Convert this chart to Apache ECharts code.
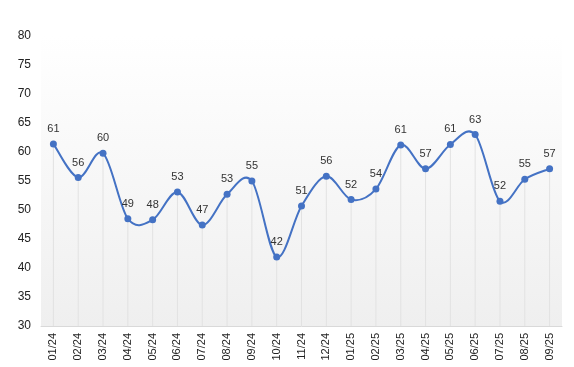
<!DOCTYPE html>
<html><head><meta charset="utf-8">
<script src="https://cdn.jsdelivr.net/npm/echarts@6/dist/echarts.min.js"></script>
<style>html,body{margin:0;padding:0;background:#fff}#c{width:574px;height:367px}</style>
</head><body><div id="c"></div>
<script>
const categories = ['01/24','02/24','03/24','04/24','05/24','06/24','07/24','08/24','09/24','10/24','11/24','12/24','01/25','02/25','03/25','04/25','05/25','06/25','07/25','08/25','09/25'];
const values = [61.4,55.6,59.8,48.5,48.3,53.1,47.4,52.7,55.0,41.9,50.7,55.8,51.8,53.6,61.2,57.1,61.3,63.0,51.5,55.3,57.1];
const yTicks = [30,35,40,45,50,55,60,65,70,75,80];

const LINE = '#4472c4';
const chart = echarts.init(document.getElementById('c'));

function renderSeg(params, api) {
  const i = params.dataIndex;
  if (i >= values.length - 1) return null;
  const P = k => {
    const kk = Math.max(0, Math.min(values.length - 1, k));
    return api.coord([kk, values[kk]]);
  };
  const p0 = P(i - 1), p1 = P(i), p2 = P(i + 1), p3 = P(i + 2);
  const t = 1 / 6;
  return {
    type: 'bezierCurve',
    shape: {
      x1: p1[0], y1: p1[1], x2: p2[0], y2: p2[1],
      cpx1: p1[0] + (p2[0] - p0[0]) * t, cpy1: p1[1] + (p2[1] - p0[1]) * t,
      cpx2: p2[0] - (p3[0] - p1[0]) * t, cpy2: p2[1] - (p3[1] - p1[1]) * t
    },
    style: { stroke: LINE, lineWidth: 2, fill: null }
  };
}

chart.setOption({
  animation: false,
  grid: {left: 41, right: 12, top: 36, bottom: 41, show: true, borderWidth: 0,
    backgroundColor: {type:'linear', x:0, y:0, x2:0, y2:1, colorStops:[{offset:0,color:'#ffffff'},{offset:1,color:'#efefef'}]}},
  xAxis: {type:'category', data: categories, boundaryGap: true,
    axisLine:{lineStyle:{color:'#d9d9d9'}}, axisTick:{show:false},
    axisLabel:{rotate:90, fontSize:11, color:'#222', fontFamily:'Liberation Sans, Arial', margin:7}},
  yAxis: {type:'value', min: yTicks[0], max: yTicks[yTicks.length-1], interval: 5,
    axisLine:{show:false}, axisTick:{show:false}, splitLine:{show:false},
    axisLabel:{fontSize:12, color:'#222', fontFamily:'Liberation Sans, Arial', margin:10}},
  series: [
    {type:'bar', data: values, barWidth: 1, itemStyle:{color:'#e2e2e2'}, silent:true, z:1},
    {type:'custom', data: values.map((v, i) => [i, v]), renderItem: renderSeg, z:2, silent:true},
    {type:'line', data: values, symbol:'circle', symbolSize:7,
     lineStyle:{width:0, opacity:0}, itemStyle:{color:LINE}, z:3,
     label:{show:true, position:'top', fontSize:11, color:'#333', fontFamily:'Liberation Sans, Arial', distance:6,
       formatter: p => Math.round(p.value)}}
  ]
});
</script></body></html>
